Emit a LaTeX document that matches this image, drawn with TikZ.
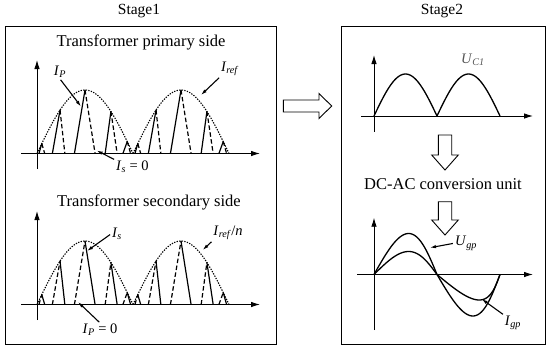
\documentclass[tikz,border=0pt]{standalone}
\usepackage{fontspec}
\setmainfont{Liberation Serif}
\usepackage{xcolor}
\usepackage{tikz}
\usetikzlibrary{arrows.meta}
\definecolor{CInk}{HTML}{000000}
\definecolor{CDim}{HTML}{555555}
\newcommand{\qlbl}[2]{\textit{#1}\textsubscript{\textit{#2}}}

\begin{document}
\begin{tikzpicture}[x=1pt,y=-1pt,
  box/.style={draw=CInk, line width=0.9pt},
  axis/.style={draw=CInk, line width=0.9pt, -{Latex[length=9pt,width=5.5pt]}},
  envl/.style={draw=CInk, line width=1.1pt, dash pattern=on 1.3pt off 1.3pt},
  pulse/.style={draw=CInk, line width=1.2pt},
  brk/.style={dash pattern=on 4.5pt off 2.5pt},
  wave/.style={draw=CInk, line width=1.3pt},
  hollow/.style={draw=CInk, line width=0.9pt, fill=white},
  ptr/.style={draw=CInk, line width=1.1pt, shorten <=1pt, -{Latex[length=6pt,width=3.5pt]}},
  ttl/.style={font=\fontsize{16.5}{17}\selectfont},
  stg/.style={font=\fontsize{15.5}{16}\selectfont},
  lbl/.style={font=\fontsize{14.5}{15}\selectfont, inner sep=1pt}]
  \useasboundingbox (0,0) rectangle (550,351);

  % frames of the two stages
  \draw[box] (5,26) rectangle (276.7,344);
  \draw[box] (341.7,26) rectangle (545,344);
  \node[stg] (stgA) at (139,11) {Stage1};
  \node[stg] (stgB) at (442,11) {Stage2};
  \node[ttl] (ttlP) at (141,42) {Transformer primary side};
  \node[ttl] (ttlS) at (149,202) {Transformer secondary side};
  \node[ttl] (ttlDC) at (443,184.5) {DC-AC conversion unit};

  % primary (solid up, dashed down) and secondary (dashed up, solid down)
  \foreach \yb/\up/\dn in {153.5/solid/brk, 304.5/brk/solid} {
    \draw[axis] (21,\yb) -- (260,\yb);
    \draw[axis] (37,\yb+15.5) -- (37,\yb-93.5);
    \foreach \xo in {37,133} {
      \draw[envl] plot[domain=0:1, samples=50] ({\xo+96*\x},{\yb-63.5*sin(180*\x)});
      \foreach \l/\p/\r in {.02/.05/.08, .16/.24/.29, .39/.5/.605, .71/.77/.835, .895/.94/.975} {
        \draw[pulse,\up] ({\xo+96*\l},\yb) -- ({\xo+96*\p},{\yb-63.5*sin(180*\p)});
        \draw[pulse,\dn] ({\xo+96*\p},{\yb-63.5*sin(180*\p)}) -- ({\xo+96*\r},\yb);
      }
    }
  }

  % rectified capacitor voltage
  \draw[axis] (361,116) -- (533,116);
  \draw[axis] (374,131.7) -- (374,55);
  \foreach \xo in {374,437}
    \draw[wave] plot[domain=0:1, samples=50] ({\xo+63*\x},{116-42*sin(180*\x)});
  \node[lbl, text=CDim] (lUc) at (473,60) {\qlbl{U}{C1}};

  % grid voltage and current
  \draw[axis] (357,274.5) -- (533,274.5);
  \draw[axis] (374,330) -- (374,217.7);
  \foreach \ap/\an/\kn in {41/41.5/.07, 23/25.5/.17} {
    \draw[wave] plot[domain=0:1, samples=60] ({374+63*(\x+.05*sin(180*\x))},{274.5-\ap*sin(180*\x)});
    \draw[wave] plot[domain=0:1, samples=60] ({437+63*(\x+\kn*sin(180*\x))},{274.5+\an*sin(180*\x)});
  }

  % hollow block arrows
  \draw[hollow] (283.3,100) -- (319,100) -- (319,93.5) -- (331.7,106) -- (319,118.5) -- (319,112) -- (283.3,112) -- cycle;
  \foreach \ya/\yh/\yt in {135/155/170, 201.7/220/235}
    \draw[hollow] (438.3,\ya) -- (438.3,\yh) -- (431.7,\yh) -- (445,\yt) -- (458.3,\yh) -- (451.7,\yh) -- (451.7,\ya) -- cycle;

  % labels with pointers
  \node[lbl] (lIp) at (60,72) {\qlbl{I}{P}};
  \node[lbl] (lIref) at (230,69) {\qlbl{I}{ref}};
  \node[lbl] (lIs0) at (132.5,167) {\qlbl{I}{s} = 0};
  \node[lbl] (lIs) at (117,234) {\qlbl{I}{s}};
  \node[lbl] (lIrefn) at (228,233) {\qlbl{I}{ref}/\textit{n}};
  \node[lbl] (lIp0) at (100,330) {\qlbl{I}{P} = 0};
  \node[lbl] (lUgp) at (466,243.3) {\qlbl{U}{gp}};
  \node[lbl] (lIgp) at (513,323) {\qlbl{I}{gp}};
  \coordinate (tIp) at (81,106.5);
  \coordinate (tIref) at (201,95);
  \coordinate (tIs0) at (96.7,150.5);
  \coordinate (tIs) at (87,251);
  \coordinate (tIrefn) at (202.7,250);
  \coordinate (tIp0) at (78,302);
  \coordinate (tUgp) at (430,247.7);
  \coordinate (tIgp) at (481.7,299);
  \draw[ptr] (lIp.south) -- (tIp);
  \draw[ptr] (lIref.south west) -- (tIref);
  \draw[ptr] (lIs0.north west) -- (tIs0);
  \draw[ptr] (lIs.west) -- (tIs);
  \draw[ptr] (lIrefn.south west) -- (tIrefn);
  \draw[ptr] (lIp0.north) -- (tIp0);
  \draw[ptr] (lUgp.west) -- (tUgp);
  \draw[ptr] (lIgp.north west) -- (tIgp);
\end{tikzpicture}
\end{document}
